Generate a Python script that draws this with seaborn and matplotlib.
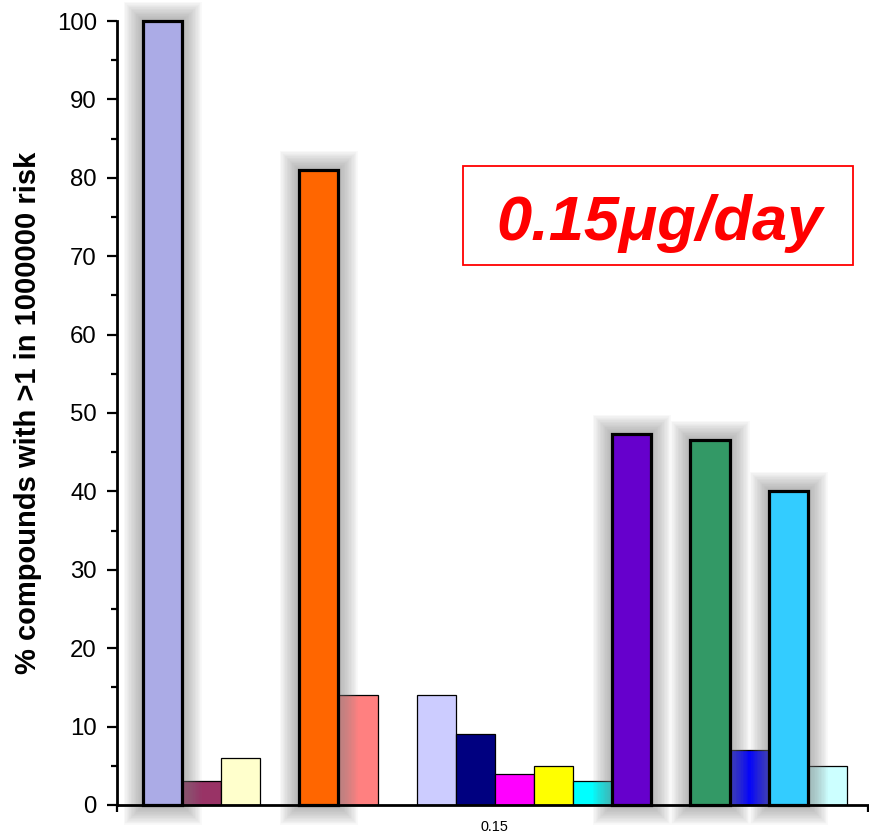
import matplotlib
matplotlib.use("Agg")
import matplotlib.pyplot as plt
import matplotlib.patheffects as pe
from matplotlib.patches import Rectangle
import seaborn as sns
import pandas as pd
import numpy as np

# Series shown for the 0.15 ug/day intake (empty slots separate the groups)
series = ["A", "B", "C", "gap1", "D", "E", "gap2", "F", "G", "H", "I", "J",
          "K", "gap3", "L", "M", "N", "O"]
values = [100, 3, 6, np.nan, 81, 14, np.nan, 14, 9, 4, 5, 3,
          47.3, np.nan, 46.5, 7, 40, 5]
colors = ["#ABABE6", "#993366", "#FFFFCC", "#FFFFFF", "#FF6600", "#FF8080",
          "#FFFFFF", "#CCCCFF", "#000080", "#FF00FF", "#FFFF00", "#00FFFF",
          "#6600CC", "#FFFFFF", "#339966", "#0000FF", "#33CCFF", "#CCFFFF"]
highlight = ["A", "D", "K", "L", "N"]
category_label = "0.15"
y_label = "% compounds with >1 in 1000000 risk"
dose_text = "0.15\u03bcg/day"

sns.set_theme(style="white")
plt.rcParams["font.family"] = ["Liberation Sans", "DejaVu Sans"]

df = pd.DataFrame({"series": series, "value": values})
df_drawn = df.dropna()
palette = {s: c for s, c in zip(series, colors)}

fig = plt.figure(figsize=(8.7, 8.34), dpi=100)
ax = fig.add_axes([0.1345, 0.0348, 0.8632, 0.9400])

sns.barplot(data=df_drawn, x="series", y="value", hue="series",
            order=series, hue_order=list(df_drawn["series"]),
            palette=palette, width=1.0, legend=False, saturation=1,
            ax=ax)

# soft grey halo around the highlighted bars
halo = [pe.Stroke(linewidth=w, foreground="#808080", alpha=0.05)
        for w in range(28, 2, -2)] + [pe.Normal()]
for patch in ax.patches:
    idx = int(round(patch.get_x() + patch.get_width() / 2))
    name = series[idx]
    patch.set_edgecolor("black")
    if name in highlight:
        patch.set_linewidth(2.3)
        patch.set_zorder(5)
        patch.set_clip_on(False)
        patch.set_path_effects(halo)
    else:
        patch.set_linewidth(0.9)
        patch.set_zorder(3)

n = len(series)
x_left, x_right = -1.16, n - 0.5 + 0.54
ax.set_ylim(0, 100)
ax.set_xlim(x_left, x_right)
ax.set_yticks(np.arange(0, 101, 10))
ax.set_yticks(np.arange(0, 101, 5), minor=True)
ax.tick_params(axis="y", which="major", direction="out", length=7, width=1.6,
               labelsize=17.3, colors="black", labelcolor="black",
               left=True, pad=7.5)
ax.tick_params(axis="y", which="minor", direction="out", length=4.5,
               width=1.6, left=True, colors="black")
ax.set_xticks([(n - 1) / 2])
ax.set_xticklabels([category_label], fontsize=10.4, color="black")
ax.set_xticks([x_left, x_right], minor=True)
ax.tick_params(axis="x", which="major", length=0, pad=11)
ax.tick_params(axis="x", which="minor", direction="out", length=5,
               width=1.6, bottom=True, colors="black")

for side in ["top", "right"]:
    ax.spines[side].set_visible(False)
for side in ["left", "bottom"]:
    ax.spines[side].set_color("black")
    ax.spines[side].set_linewidth(2)
    ax.spines[side].set_zorder(6)

ax.set_xlabel("")
ax.set_ylabel(y_label, fontsize=21, fontweight="bold", color="black")
ax.yaxis.set_label_coords(-0.1, 0.5)

# dose annotation box
ax.add_patch(Rectangle((0.4607, 0.6888), 0.5193, 0.1263,
                       transform=ax.transAxes, facecolor="white",
                       edgecolor="#FF0000", linewidth=1.3, zorder=7,
                       clip_on=False))
ax.text(0.723, 0.7207, dose_text, transform=ax.transAxes,
        ha="center", va="baseline", fontsize=45.5, fontweight="bold",
        fontstyle="italic", color="#FF0000", zorder=8)

fig.savefig("out.png", dpi=100, facecolor="white")
